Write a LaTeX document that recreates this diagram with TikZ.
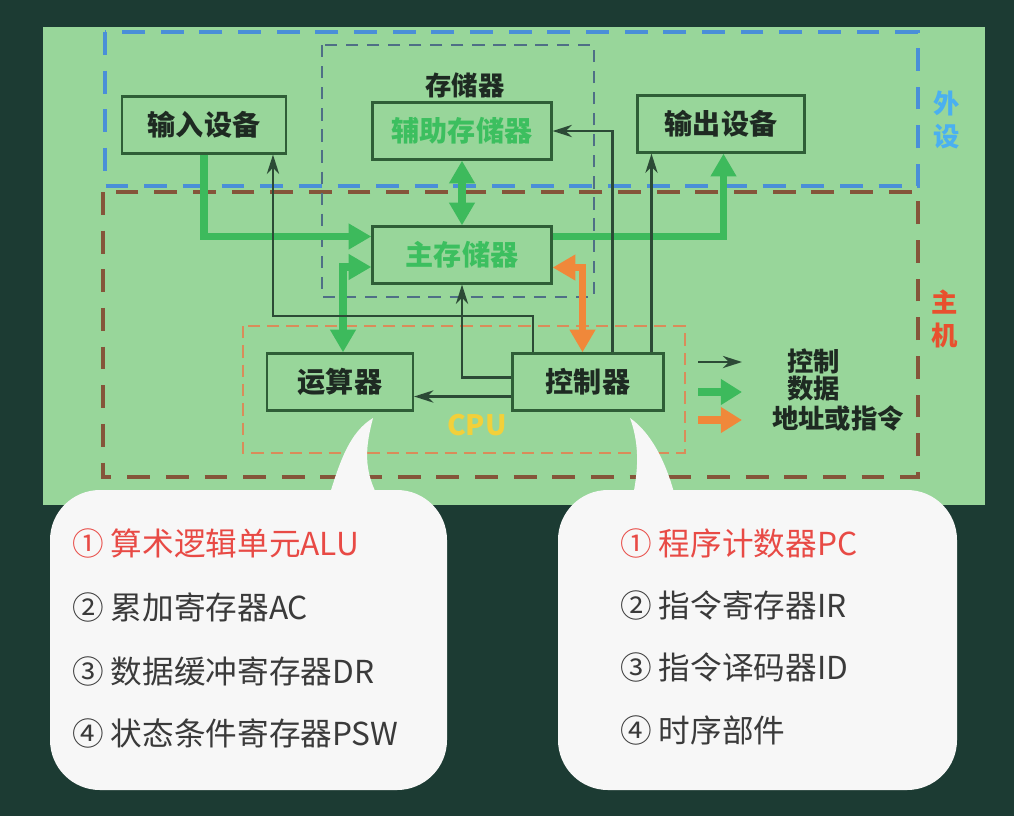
\documentclass[tikz,border=0pt]{standalone}
\usepackage{fontspec}
\setmainfont{Noto Sans CJK SC}
\usetikzlibrary{positioning,arrows.meta}
\usepackage{xcolor}

\definecolor{bgdark}{HTML}{1C3B33}
\definecolor{panel}{HTML}{98D69A}
\definecolor{datagreen}{HTML}{3DBA5C}
\definecolor{addrorange}{HTML}{F0883A}
\definecolor{ctrlline}{HTML}{2C4A36}
\definecolor{boxline}{HTML}{2F5E37}
\definecolor{labeldark}{HTML}{1E2A22}
\definecolor{memgreen}{HTML}{3CBF5F}
\definecolor{periphblue}{HTML}{4A8FD8}
\definecolor{hostbrown}{HTML}{85553A}
\definecolor{memgrey}{HTML}{4F6F86}
\definecolor{cpuorange}{HTML}{D98C5A}
\definecolor{sideblue}{HTML}{4AB0F0}
\definecolor{sidered}{HTML}{E8502E}
\definecolor{cpuyellow}{HTML}{F2D03A}
\definecolor{itemgrey}{HTML}{3A3A3A}
\definecolor{itemred}{HTML}{E84A45}
\definecolor{bubblewhite}{HTML}{F7F7F7}

\begin{document}
\begin{tikzpicture}[
		x=0.02cm, y=-0.02cm,
		box/.style={draw=boxline, line width=1.3pt, minimum height=1.14cm, text=labeldark,
			font=\bfseries\fontsize{16}{18}\selectfont},
		ctrl/.style={draw=ctrlline, line width=1.2pt, -{Stealth[length=11pt, width=7pt]}},
		data/.style={draw=datagreen, line width=4pt, -{Triangle[length=13pt, width=14pt]}},
		datatwo/.style={draw=datagreen, line width=4pt,
			{Triangle[length=13pt, width=14pt]}-{Triangle[length=13pt, width=14pt]}},
		addr/.style={draw=addrorange, line width=4pt,
			{Triangle[length=13pt, width=14pt]}-{Triangle[length=13pt, width=14pt]}},
		legarrow/.style={line width=4pt, -{Triangle[length=12pt, width=14pt]}},
		dashbox/.style={line width=2.2pt, dash pattern=on 13pt off 9pt},
		thindash/.style={line width=1.1pt, dash pattern=on 7pt off 5pt},
		legend/.style={text=labeldark, font=\bfseries\fontsize{15}{17}\selectfont},
		side/.style={align=center, font=\bfseries\fontsize{15}{19}\selectfont},
		item/.style={anchor=west, text=itemgrey, font=\fontsize{18}{20}\selectfont},
		bubble/.style={fill=bubblewhite}
		]
		
		\useasboundingbox (0,0) rectangle (1014,816);
		\fill[bgdark] (0,0) rectangle (1014,816);
		\fill[panel] (43,27) rectangle (985,505);
		
		% ---- dashed zones ----
		\draw[dashbox, periphblue] (105,32) rectangle (918,186);
		\draw[dashbox, hostbrown] (103,192) rectangle (918,477);
		\draw[thindash, memgrey] (322,45) rectangle (594,297);
		\draw[thindash, cpuorange, dash pattern=on 7pt off 4pt] (243,326) rectangle (685,453);
		
		% ---- units ----
		\node[box, minimum width=3.28cm] (input) at (204,125) {输入设备};
		\node[box, minimum width=3.58cm, text=memgreen] (aux) at (462,131) {辅助存储器};
		\node[box, minimum width=3.34cm] (output) at (721,124) {输出设备};
		\node[box, minimum width=3.58cm, text=memgreen] (main) at (462,255) {主存储器};
		\node[box, minimum width=2.92cm] (alu) at (340,382) {运算器};
		\node[box, minimum width=3.02cm] (cu) at (588,382) {控制器};
		
		\node[legend] (memlbl) at (465,85) {存储器};
		\node[text=cpuyellow, font=\bfseries\fontsize{16}{18}\selectfont] (cpulbl) at (477,425) {CPU};
		\node[side, text=sideblue] (periph) at (947,120) {外\\设};
		\node[side, text=sidered] (host) at (945,319) {主\\机};
		
		% ---- data paths ----
		\draw[data] (input.south) |- ([yshift=0.37cm]main.west);
		\draw[data] ([yshift=0.37cm]main.east) -| ([xshift=0.05cm]output.south);
		\draw[datatwo] (aux.south) -- (main.north);
		\draw[datatwo] ([yshift=-0.24cm]main.west) -| ([xshift=0.06cm]alu.north);
		\draw[addr] ([yshift=-0.25cm]main.east) -| ([xshift=-0.11cm]cu.north);
		
		% ---- control paths ----
		\draw[ctrl] ([yshift=-0.29cm]cu.west) -- ([yshift=-0.29cm]alu.east);
		\draw[ctrl] ([yshift=0.09cm]cu.west) -| (main.south);
		\draw[ctrl] ([xshift=-1.1cm]cu.north) -- ++(0,0.72cm) -| ([xshift=1.38cm]input.south);
		\draw[ctrl] ([xshift=0.49cm]cu.north) |- (aux.east);
		\draw[ctrl] ([xshift=1.27cm]cu.north) -- ([xshift=1.27cm]cu.north |- output.south);
		
		% ---- legend ----
		\coordinate (lgctrlA) at (698,362);
		\coordinate (lgctrlB) at (742,362);
		\coordinate (lgdataA) at (698,392);
		\coordinate (lgdataB) at (742,392);
		\coordinate (lgaddrA) at (698,420);
		\coordinate (lgaddrB) at (742,420);
		\draw[ctrl] (lgctrlA) -- (lgctrlB);
		\draw[legarrow, datagreen] (lgdataA) -- (lgdataB);
		\draw[legarrow, addrorange] (lgaddrA) -- (lgaddrB);
		\node[legend, anchor=west] (lgctrl) at (781,361) {控制};
		\node[legend, anchor=west] (lgdata) at (781,389) {数据};
		\node[legend, anchor=west] (lgaddr) at (766,418) {地址或指令};
		
		% ---- speech bubbles ----
		\fill[bubble, rounded corners=1cm] (50,490) rectangle (447,790);
		\fill[bubble] (328,500) .. controls (340,460) and (350,432) .. (373,418)
			.. controls (366,445) and (362,470) .. (380,500) -- cycle;
		\fill[bubble, rounded corners=1cm] (558,490) rectangle (957,790);
		\fill[bubble] (632,500) .. controls (640,465) and (638,440) .. (630,418)
			.. controls (650,432) and (666,460) .. (676,500) -- cycle;
		
		\node[item, text=itemred] (alua) at (66,543) {① 算术逻辑单元ALU};
		\node[item] (alub) at (66,607) {② 累加寄存器AC};
		\node[item] (aluc) at (66,671) {③ 数据缓冲寄存器DR};
		\node[item] (alud) at (66,733) {④ 状态条件寄存器PSW};
		
		\node[item, text=itemred] (cua) at (614,543) {① 程序计数器PC};
		\node[item] (cub) at (614,605) {② 指令寄存器IR};
		\node[item] (cuc) at (614,667) {③ 指令译码器ID};
		\node[item] (cud) at (614,730) {④ 时序部件};
		
	\end{tikzpicture}
\end{document}
